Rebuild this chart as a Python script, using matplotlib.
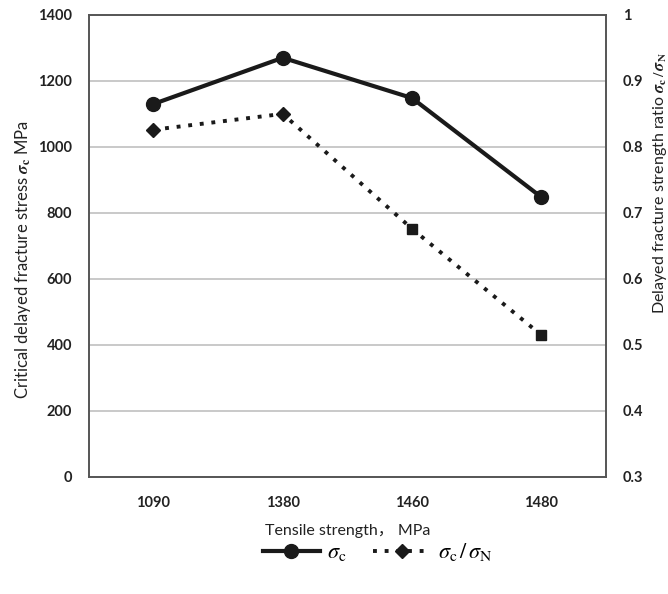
import matplotlib.pyplot as plt

plt.rcParams['font.family'] = ['Lato', 'Noto Sans CJK SC', 'DejaVu Sans']
plt.rcParams['mathtext.fontset'] = 'stix'

categories = ["1090", "1380", "1460", "1480"]
sigma_c = [1130, 1270, 1148, 848]
ratio = [0.826, 0.85, 0.676, 0.515]

fig = plt.figure(figsize=(6.68, 5.94), dpi=100)
ax = fig.add_axes([0.133, 0.197, 0.774, 0.778])
ax2 = ax.twinx()

x = list(range(len(categories)))
dots = (0, (1, 2))

ax.plot(x, sigma_c, color="#1a1a1a", lw=3, marker="o", ms=10, zorder=3)
ax2.plot(x, ratio, color="#1a1a1a", lw=2.8, ls=dots, zorder=3)
ax2.plot(x[:2], ratio[:2], ls="none", marker="D", ms=7, color="#1a1a1a", zorder=4)
ax2.plot(x[2:], ratio[2:], ls="none", marker="s", ms=7, color="#1a1a1a", zorder=4)

ax.set_xlim(-0.5, 3.5)
ax.set_ylim(0, 1400)
ax.set_yticks(range(0, 1401, 200))
ax2.set_ylim(0.3, 1.0)
ax2.set_yticks([0.3, 0.4, 0.5, 0.6, 0.7, 0.8, 0.9, 1.0])
ax2.set_yticklabels(["0.3", "0.4", "0.5", "0.6", "0.7", "0.8", "0.9", "1"])
ax.set_xticks(x)
ax.set_xticklabels(categories)

ax.grid(axis="y", color="#c0c0c0", lw=1.2)
ax.set_axisbelow(True)
for a in (ax, ax2):
    a.tick_params(length=0, labelsize=10.5, pad=12)
    for lbl in a.get_xticklabels() + a.get_yticklabels():
        lbl.set_fontweight("bold")
        lbl.set_color("#222222")
    for s in a.spines.values():
        s.set_color("#555555")
        s.set_linewidth(1.2)
ax.tick_params(axis="x", pad=14)

ax.set_xlabel("Tensile strength\uff0c MPa", fontsize=11.5, labelpad=10, color="#222222")
ax.set_ylabel(r"Critical delayed fracture stress $\boldsymbol{\sigma}_\mathbf{c}$ MPa", fontsize=12,
              color="#222222")
ax.yaxis.set_label_coords(-0.108, 0.47)
ax2.set_ylabel(r"Delayed fracture strength ratio $\boldsymbol{\sigma}_\mathbf{c}\,/\,\boldsymbol{\sigma}_\mathbf{N}$",
               fontsize=11.5, color="#222222")
ax2.yaxis.set_label_coords(1.087, 0.635)

# legend below the plot
h1, = ax.plot([], [], color="#1a1a1a", lw=3, marker="o", ms=10)
h2, = ax.plot([], [], color="#1a1a1a", lw=2.8, ls=dots, marker="D", ms=7)
leg = fig.legend([h1, h2], [r"$\sigma_\mathrm{c}$", r"$\sigma_\mathrm{c}\,/\,\sigma_\mathrm{N}$"],
                 loc="center", bbox_to_anchor=(0.565, 0.07), ncol=2, frameon=False,
                 fontsize=16, handlelength=2.6, columnspacing=1.2, handletextpad=0.3)

fig.savefig("out.png", dpi=100)
